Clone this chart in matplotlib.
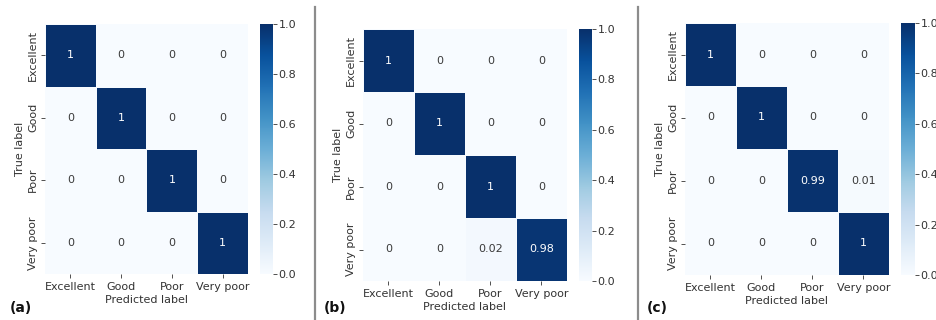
import numpy as np
import matplotlib
matplotlib.use("Agg")
import matplotlib.pyplot as plt
import seaborn as sns

classes = ["Excellent", "Good", "Poor", "Very poor"]

cm_a = np.array([[1, 0, 0, 0],
                 [0, 1, 0, 0],
                 [0, 0, 1, 0],
                 [0, 0, 0, 1]])
cm_b = np.array([[1, 0, 0, 0],
                 [0, 1, 0, 0],
                 [0, 0, 1, 0],
                 [0, 0, 0.02, 0.98]])
cm_c = np.array([[1, 0, 0, 0],
                 [0, 1, 0, 0],
                 [0, 0, 0.99, 0.01],
                 [0, 0, 0, 1]])
panel_tags = ["(a)", "(b)", "(c)"]

W, H = 937, 320
fig = plt.figure(figsize=(W / 100, H / 100), dpi=100)
fig.patch.set_facecolor("white")
plt.rcParams["font.family"] = ["DejaVu Sans"]

def px_axes(x0, y0, x1, y1):
    return fig.add_axes([x0 / W, 1 - y1 / H, (x1 - x0) / W, (y1 - y0) / H])

# heatmap box and colorbar box per panel, in pixels (left, top, right, bottom)
layout = [
    ((45, 24, 248, 274), (260, 24, 273, 274), (10, 308)),
    ((363, 29, 567, 281), (579, 29, 592, 281), (324, 308)),
    ((685, 23, 889, 275), (901, 23, 915, 275), (647, 308)),
]

fs = 8.0
for cm, tag, (hb, cb, tp) in zip([cm_a, cm_b, cm_c], panel_tags, layout):
    ax = px_axes(*hb)
    cax = px_axes(*cb)
    sns.heatmap(cm, ax=ax, cbar_ax=cax, cmap="Blues", vmin=0, vmax=1,
                annot=True, fmt="g", annot_kws={"fontsize": fs},
                linewidths=0.4, linecolor="#f7fbff",
                xticklabels=classes, yticklabels=classes)
    for t in ax.texts:
        if t.get_color() not in ("w", "white", (1, 1, 1, 1)):
            t.set_color("#3a3a3a")
    ax.tick_params(axis="both", labelsize=fs, colors="#333333", length=3,
                   width=0.6, pad=2)
    ax.tick_params(axis="x", pad=3)
    ax.set_yticklabels(classes, rotation=90, va="center")
    ax.set_xticklabels(classes, rotation=0)
    ax.set_xlabel("Predicted label", fontsize=fs, color="#333333", labelpad=2)
    ax.set_ylabel("True label", fontsize=fs, color="#333333", labelpad=2)
    cax.tick_params(labelsize=fs, colors="#333333", length=3, width=0.6, pad=1)
    cax.set_yticks([0, 0.2, 0.4, 0.6, 0.8, 1.0])
    cax.set_yticklabels(["0.0", "0.2", "0.4", "0.6", "0.8", "1.0"])
    for s in cax.spines.values():
        s.set_visible(False)
    fig.text(tp[0] / W, 1 - tp[1] / H, tag, fontsize=10, fontweight="bold",
             color="#111111", ha="left", va="center")

# vertical separators between panels
for xs in (315, 638):
    fig.add_artist(plt.Line2D([xs / W, xs / W], [0, 1 - 7 / H],
                              color="#8c8c8c", linewidth=1.6))

fig.savefig("out.png", dpi=100, facecolor="white")
